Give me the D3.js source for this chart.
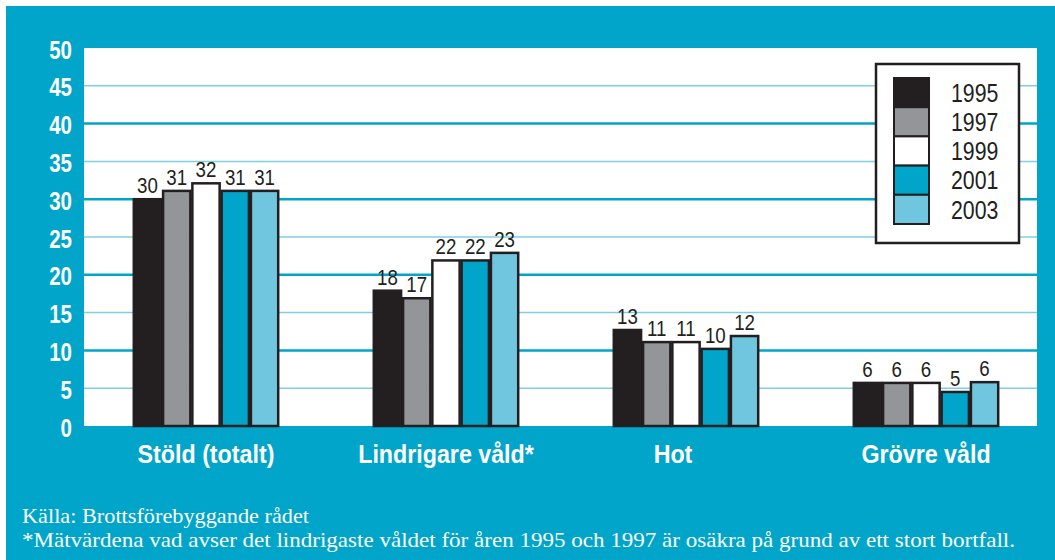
<!DOCTYPE html>
<html>
<head>
<meta charset="utf-8">
<script src="https://cdn.jsdelivr.net/npm/d3@7"></script>
<style>
  body { margin: 0; background: #fff; }
  text.narrow { font-family: "Liberation Sans", Arial, sans-serif; }
</style>
</head>
<body>
<script>
var categories = [ 'Stöld (totalt)', 'Lindrigare våld*', 'Hot', 'Grövre våld' ];
var years = [ '1995', '1997', '1999', '2001', '2003' ];
var values1995 = [ 30.0, 17.9, 12.7, 5.7 ];
var values1997 = [ 31.1, 16.9, 11.1, 5.7 ];
var values1999 = [ 32.1, 21.9, 11.1, 5.7 ];
var values2001 = [ 31.1, 21.9, 10.2, 4.5 ];
var values2003 = [ 31.1, 22.9, 11.9, 5.8 ];
var yTicks = [ 0, 5, 10, 15, 20, 25, 30, 35, 40, 45, 50 ];
var notes = [
  'Källa: Brottsförebyggande rådet',
  '*Mätvärdena vad avser det lindrigaste våldet för åren 1995 och 1997 är osäkra på grund av ett stort bortfall.'
];

var colors = [ '#231f20', '#939598', '#ffffff', '#00a5c9', '#6fc6de' ];
var series = [ values1995, values1997, values1999, values2001, values2003 ];
var blue = '#00a5c9';
var squeeze = 0.82; // condensed look: no narrow face installed

var svg = d3.select( 'body' ).append( 'svg' )
  .attr( 'width', 1055 )
  .attr( 'height', 560 );

// blue frame + white plot area
svg.append( 'rect' )
  .attr( 'x', 6 ).attr( 'y', 6 )
  .attr( 'width', 1049 ).attr( 'height', 554 )
  .attr( 'fill', blue );

var plotLeft = 84, plotRight = 1037;

var y = d3.scaleLinear()
  .domain( [ 0, 50 ] )
  .range( [ 426, 48 ] );

svg.append( 'rect' )
  .attr( 'x', plotLeft ).attr( 'y', y( 50 ) )
  .attr( 'width', plotRight - plotLeft ).attr( 'height', y( 0 ) - y( 50 ) )
  .attr( 'fill', '#fff' );

// gridlines, every 10 thicker
svg.selectAll( 'line.grid' )
  .data( yTicks.filter( function ( d ) { return d > 0 && d < 50; } ) )
  .enter().append( 'line' )
  .attr( 'class', 'grid' )
  .attr( 'x1', plotLeft )
  .attr( 'x2', plotRight )
  .attr( 'y1', function ( d ) { return y( d ); } )
  .attr( 'y2', function ( d ) { return y( d ); } )
  .attr( 'stroke', function ( d ) { return d % 10 === 0 ? blue : '#7fcfe3'; } )
  .attr( 'stroke-width', function ( d ) { return d % 10 === 0 ? 2.5 : 1.5; } );

// y axis labels
var yAxis = svg.append( 'g' )
  .attr( 'transform', 'translate(72,2)' )
  .call( d3.axisLeft( y ).tickValues( yTicks ).tickSize( 0 ).tickPadding( 0 ) );
yAxis.select( '.domain' ).remove();
yAxis.selectAll( 'text' )
  .attr( 'class', 'narrow' )
  .attr( 'x', 0 )
  .attr( 'transform', 'scale(' + squeeze + ',1)' )
  .attr( 'fill', '#fff' )
  .attr( 'font-size', 25 )
  .attr( 'font-weight', 'bold' );

var x0 = d3.scaleBand()
  .domain( categories )
  .range( [ 86, 1046 ] )
  .paddingInner( 0.39 )
  .paddingOuter( 0.195 );

var x1 = d3.scaleBand()
  .domain( years )
  .range( [ 0, x0.bandwidth() ] );

var rows = categories.map( function ( c, i ) {
  return years.map( function ( yr, j ) {
    return { cat: c, year: yr, value: series[ j ][ i ], color: colors[ j ] };
  } );
} );

var groups = svg.selectAll( 'g.group' )
  .data( rows )
  .enter().append( 'g' )
  .attr( 'class', 'group' )
  .attr( 'transform', function ( d, i ) { return 'translate(' + x0( categories[ i ] ) + ',0)'; } );

groups.selectAll( 'rect' )
  .data( function ( d ) { return d; } )
  .enter().append( 'rect' )
  .attr( 'x', function ( d ) { return x1( d.year ) + 1; } )
  .attr( 'y', function ( d ) { return y( d.value ); } )
  .attr( 'width', x1.bandwidth() - 2 )
  .attr( 'height', function ( d ) { return y( 0 ) - y( d.value ); } )
  .attr( 'fill', function ( d ) { return d.color; } )
  .attr( 'stroke', '#231f20' )
  .attr( 'stroke-width', 2.5 );

groups.selectAll( 'text' )
  .data( function ( d ) { return d; } )
  .enter().append( 'text' )
  .attr( 'class', 'narrow' )
  .attr( 'transform', function ( d ) {
    return 'translate(' + ( x1( d.year ) + x1.bandwidth() / 2 ) + ',' + ( y( d.value ) - 6 ) + ') scale(0.85,1)';
  } )
  .attr( 'text-anchor', 'middle' )
  .attr( 'font-size', 22 )
  .attr( 'fill', '#231f20' )
  .text( function ( d ) { return Math.round( d.value ); } );

// category labels
svg.selectAll( 'text.cat' )
  .data( categories )
  .enter().append( 'text' )
  .attr( 'class', 'cat narrow' )
  .attr( 'transform', function ( d ) {
    var cx = x0( d ) + x0.bandwidth() / 2 + ( d === 'Hot' ? -13 : 0 );
    return 'translate(' + cx + ',463) scale(0.93,1)';
  } )
  .attr( 'text-anchor', 'middle' )
  .attr( 'font-size', 25 )
  .attr( 'font-weight', 'bold' )
  .attr( 'fill', '#fff' )
  .text( function ( d ) { return d; } );

// legend
var legendRow = d3.scaleBand()
  .domain( years )
  .range( [ 78, 224 ] );

svg.append( 'rect' )
  .attr( 'x', 876 ).attr( 'y', 64 )
  .attr( 'width', 143 ).attr( 'height', 179 )
  .attr( 'fill', '#fff' )
  .attr( 'stroke', '#231f20' )
  .attr( 'stroke-width', 2.5 );

svg.selectAll( 'rect.swatch' )
  .data( years )
  .enter().append( 'rect' )
  .attr( 'class', 'swatch' )
  .attr( 'x', 894 )
  .attr( 'y', function ( d ) { return legendRow( d ); } )
  .attr( 'width', 35 )
  .attr( 'height', legendRow.bandwidth() )
  .attr( 'fill', function ( d, i ) { return colors[ i ]; } )
  .attr( 'stroke', '#231f20' )
  .attr( 'stroke-width', 2 );

svg.selectAll( 'text.legend' )
  .data( years )
  .enter().append( 'text' )
  .attr( 'class', 'legend narrow' )
  .attr( 'transform', function ( d ) {
    return 'translate(951,' + ( legendRow( d ) + legendRow.bandwidth() / 2 ) + ') scale(' + squeeze + ',1)';
  } )
  .attr( 'dy', '0.35em' )
  .attr( 'font-size', 26 )
  .attr( 'fill', '#231f20' )
  .text( function ( d ) { return d; } );

// source notes
svg.selectAll( 'text.note' )
  .data( notes )
  .enter().append( 'text' )
  .attr( 'class', 'note' )
  .attr( 'x', 22 )
  .attr( 'y', function ( d, i ) { return 523 + i * 24; } )
  .attr( 'font-family', '"Liberation Serif", "Times New Roman", serif' )
  .attr( 'font-size', 21 )
  .attr( 'fill', '#fff' )
  .attr( 'textLength', function ( d, i ) { return i === 0 ? 287 : 993; } )
  .attr( 'lengthAdjust', 'spacingAndGlyphs' )
  .text( function ( d ) { return d; } );
</script>
</body>
</html>
